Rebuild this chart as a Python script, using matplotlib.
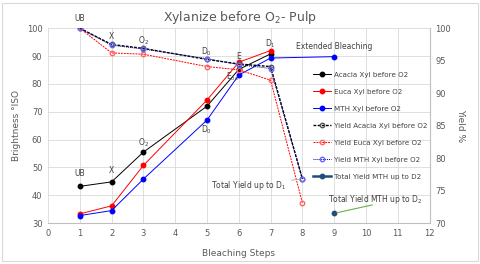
import matplotlib.pyplot as plt

# Brightness data (left axis)
x_b = [1, 2, 3, 5, 6, 7]
acacia = [43.2, 44.8, 55.5, 72.0, 85.2, 90.8]
euca = [33.3, 36.2, 50.7, 74.2, 87.8, 92.0]
x_mth = [1, 2, 3, 5, 6, 7, 9]
mth = [32.7, 34.5, 45.8, 67.0, 83.2, 89.3, 89.8]

# Yield data (right axis)
x_y = [1, 2, 3, 5, 6, 7, 8]
y_acacia = [100, 97.5, 96.9, 95.2, 94.5, 94.1, 76.8]
y_euca = [100, 96.2, 96.0, 94.1, 93.6, 92.0, 73.1]
y_mth = [100, 97.4, 96.8, 95.3, 94.4, 93.8, 76.8]
x_total = [9]
y_total = [71.5]

fig, ax = plt.subplots(figsize=(4.8, 2.64), dpi=100)
fig.subplots_adjust(left=0.1, right=0.895, top=0.893, bottom=0.155)
ax2 = ax.twinx()

ax.plot(x_b, acacia, color='black', lw=0.7, marker='o', ms=3.2, label='Acacia Xyl before O2')
ax.plot(x_b, euca, color='red', lw=0.7, marker='o', ms=3.2, label='Euca Xyl before O2')
ax.plot(x_mth, mth, color='blue', lw=0.7, marker='o', ms=3.2, label='MTH Xyl before O2')

ax2.plot(x_y, y_acacia, color='black', lw=1.0, ls=(0, (2, 1)), marker='o', ms=3.2,
         mfc='none', mec='#555555', label='Yield Acacia Xyl before O2')
ax2.plot(x_y, y_euca, color='red', lw=0.7, ls=(0, (2, 1)), marker='o', ms=3.2,
         mfc='none', mec='#ff6666', label='Yield Euca Xyl before O2')
ax2.plot(x_y, y_mth, color='#000080', lw=0.7, ls=(0, (1, 1)), marker='o', ms=3.2,
         mfc='none', mec='#6666ff', label='Yield MTH Xyl before O2')
ax2.plot(x_total, y_total, color='#1f4e79', lw=1.8, marker='o', ms=3.2,
         label='Total Yield MTH up to D2')

ax.set_xlim(0, 12)
ax.set_ylim(30, 100)
ax2.set_ylim(70, 100)
ax.set_xticks(range(0, 13))
ax.set_yticks(range(30, 101, 10))
ax2.set_yticks(range(70, 101, 5))
ax.grid(True, color='#d9d9d9', lw=0.6)
ax.set_axisbelow(True)
for a in (ax, ax2):
    for s in a.spines.values():
        s.set_visible(False)
    a.tick_params(length=0, labelsize=6, colors='#595959', pad=4)
ax.spines['bottom'].set_visible(True)
ax.spines['bottom'].set_color('#bfbfbf')
ax2.spines['right'].set_visible(True)
ax2.spines['right'].set_color('#bfbfbf')

ax.set_xlabel('Bleaching Steps', fontsize=6.5, color='#595959', labelpad=8)
ax.set_ylabel('Brightness °ISO', fontsize=6.5, color='#595959', labelpad=4)
ax2.set_ylabel('Yield %', fontsize=6.5, color='#595959', rotation=270, labelpad=10)
fig.suptitle('Xylanize before O$_2$- Pulp', fontsize=9, color='#595959', y=0.965, x=0.5)

tk = dict(fontsize=5.5, color='#404040', ha='center')
ax.text(1, 102.5, 'UB', **tk)
ax.text(2, 96, 'X', **tk)
ax.text(3, 94.5, 'O$_2$', **tk)
ax.text(5, 90.5, 'D$_0$', **tk)
ax.text(6.0, 88.8, 'E', **tk)
ax.text(5.8, 81.5, 'E$_{op}$', **tk)
ax.text(7, 93.5, 'D$_1$', **tk)
ax.text(9, 92.5, 'Extended Bleaching', **tk)
ax.text(1, 47, 'UB', **tk)
ax.text(2, 48, 'X', **tk)
ax.text(3, 58, 'O$_2$', **tk)
ax.text(5, 62.5, 'D$_0$', **tk)

ax2.annotate('Total Yield up to D$_1$', xy=(8, 76.8), xytext=(6.3, 75.8),
             fontsize=5.5, color='#404040', ha='center', va='center',
             arrowprops=dict(arrowstyle='-', color='#a6a6a6', lw=0.6))
ax2.annotate('', xy=(9, 71.5), xytext=(10.2, 72.8),
             arrowprops=dict(arrowstyle='-', color='#70ad47', lw=0.8,
                             shrinkA=0, shrinkB=2))
ax2.text(10.3, 73.6, 'Total Yield MTH up to D$_2$', fontsize=5.5, color='#404040',
         ha='center', va='center')

h1, l1 = ax.get_legend_handles_labels()
h2, l2 = ax2.get_legend_handles_labels()
ax2.legend(h1 + h2, l1 + l2, loc='upper left', bbox_to_anchor=(0.684, 0.795),
           frameon=False, fontsize=5.1, labelcolor='#404040', handlelength=2.6,
           labelspacing=1.55, borderpad=0, handletextpad=0.4)

fig.patches.append(plt.Rectangle((0.005, 0.01), 0.99, 0.98, transform=fig.transFigure,
                                 fill=False, ec='#d9d9d9', lw=0.8))
fig.savefig('out.png', dpi=100)
